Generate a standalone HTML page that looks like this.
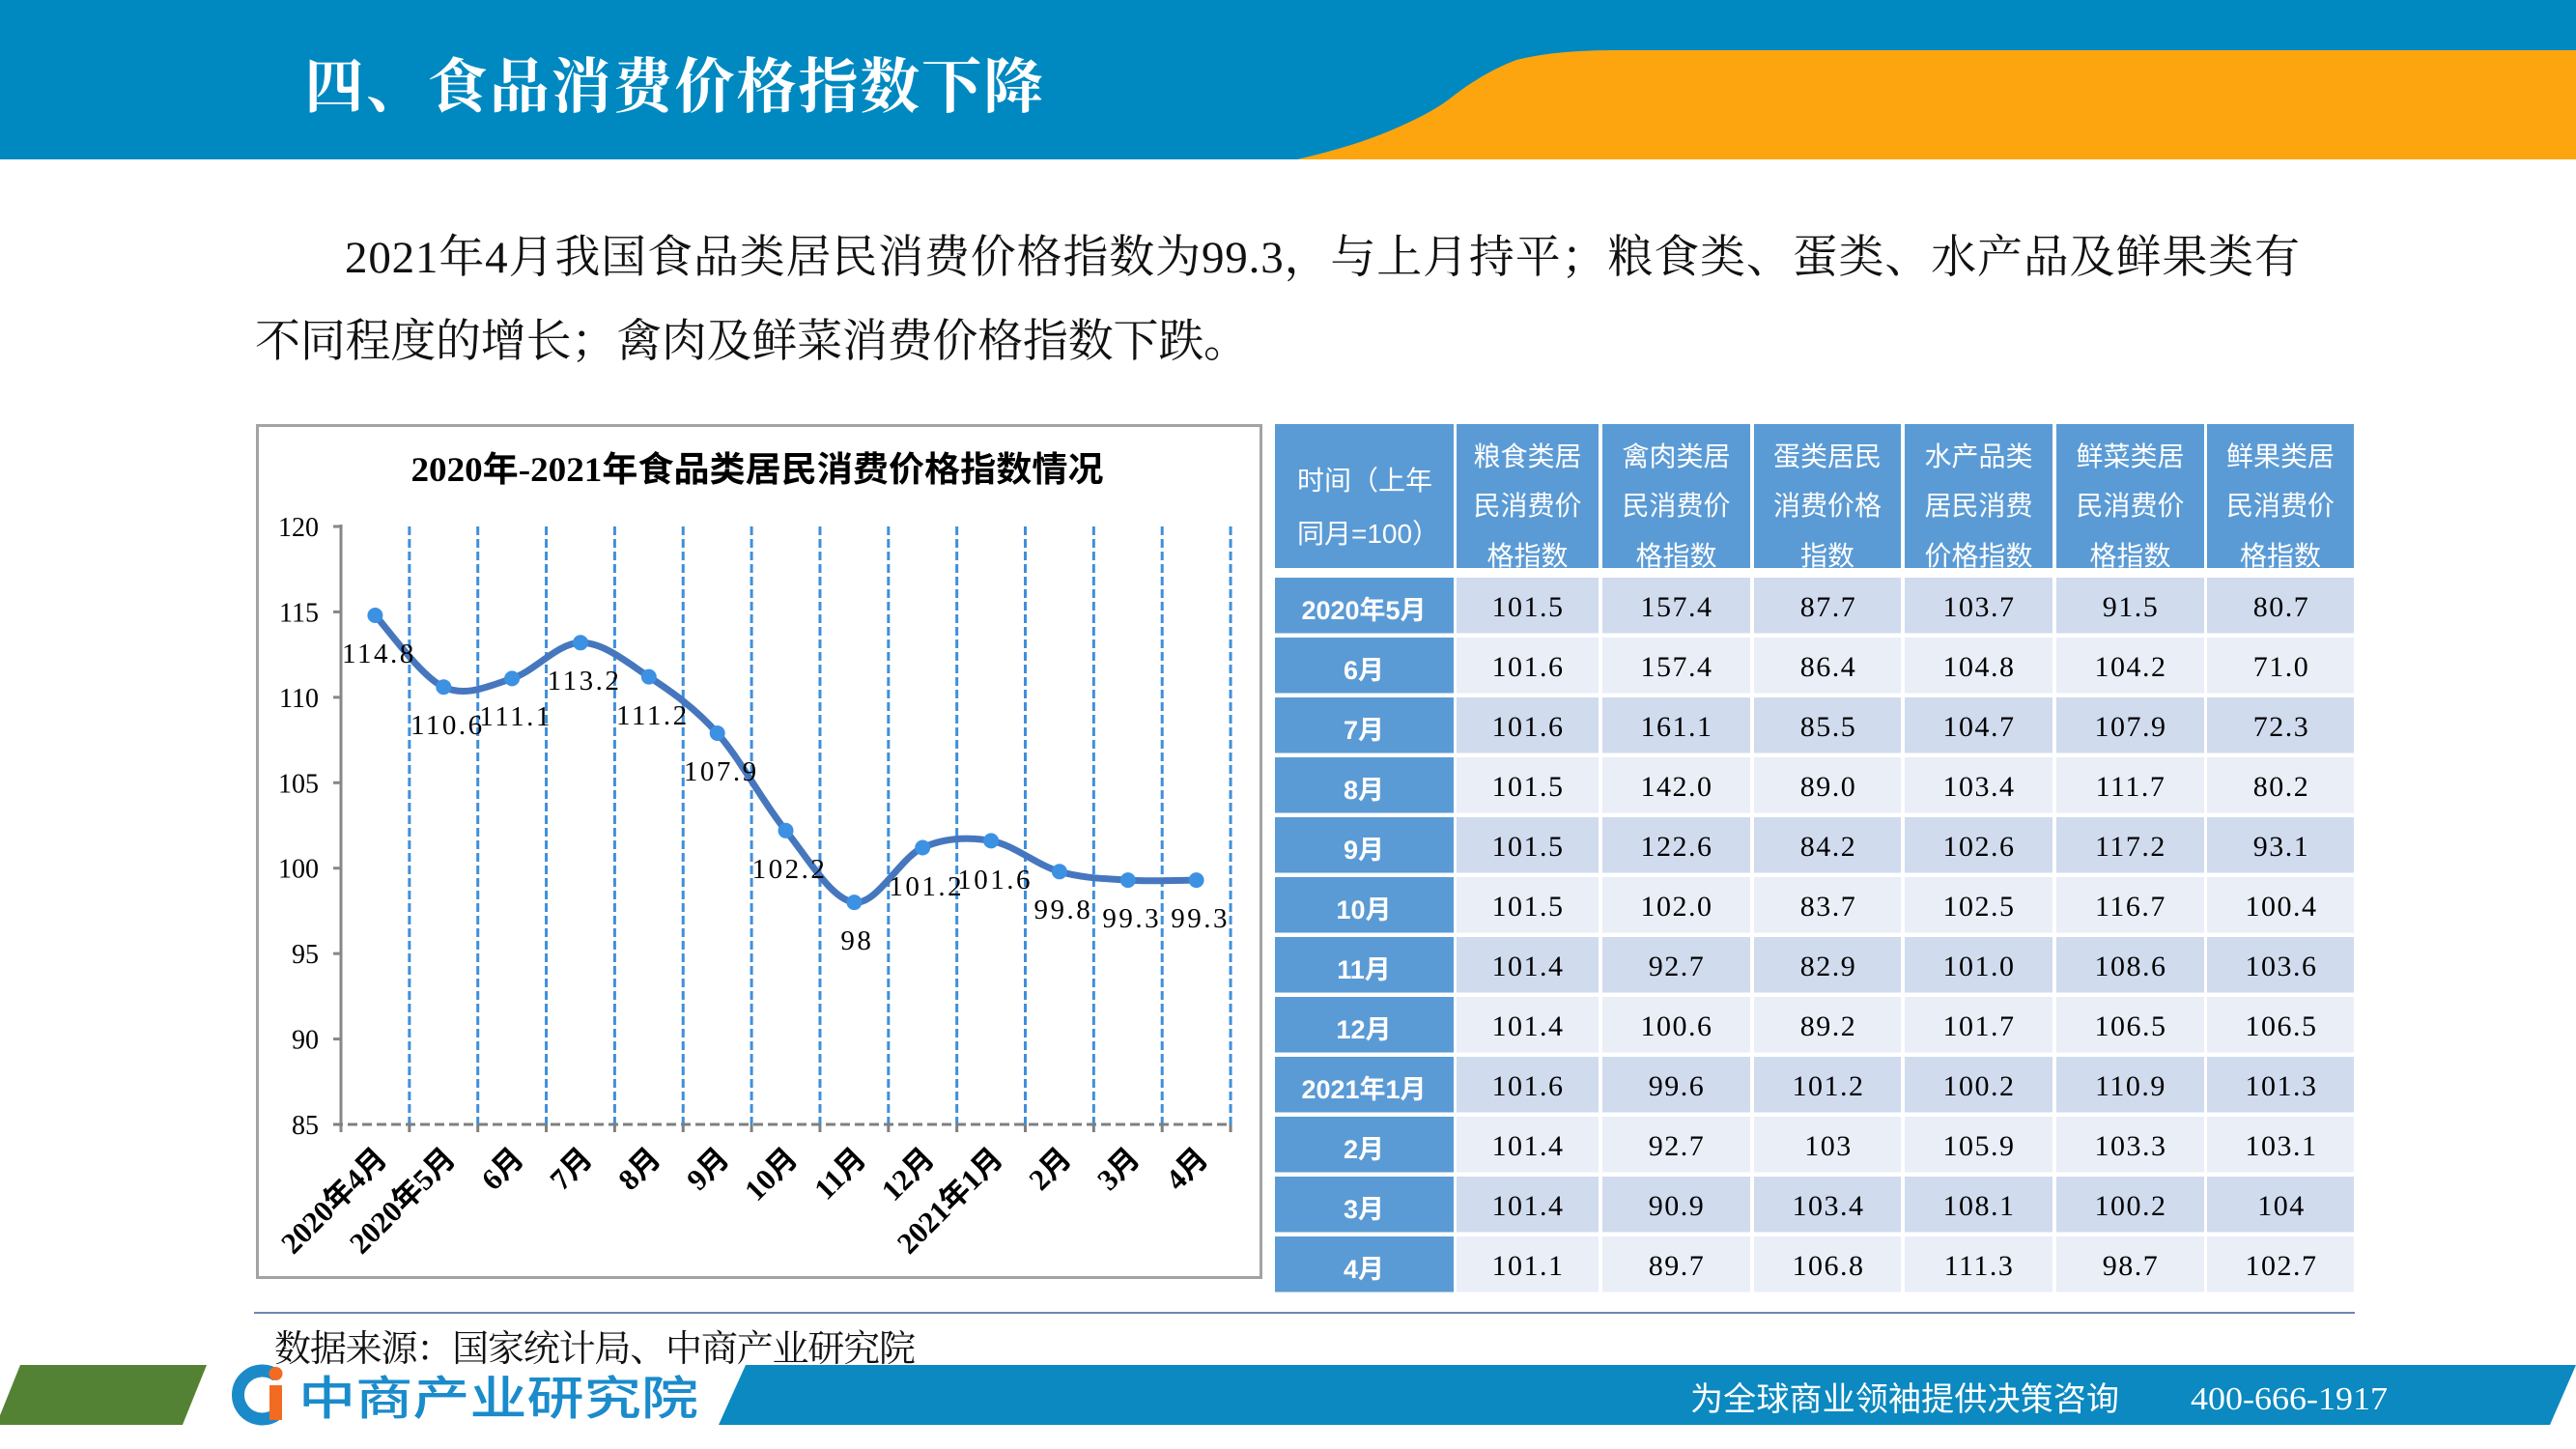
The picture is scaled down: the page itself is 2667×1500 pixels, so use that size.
<!DOCTYPE html>
<html><head><meta charset="utf-8"><title>食品消费价格指数下降</title>
<style>
html,body{margin:0;padding:0;background:#fff;}
svg{display:block;}
.serif{font-family:"Liberation Serif","Noto Serif CJK SC",serif;}
.sans{font-family:"Liberation Sans","Noto Sans CJK SC",sans-serif;}
.mix{font-family:"Liberation Serif","Noto Sans CJK SC",serif;}
</style></head><body>
<svg xmlns="http://www.w3.org/2000/svg" width="2667" height="1500" viewBox="0 0 2667 1500">
<rect width="2667" height="1500" fill="#ffffff"/>

<!-- Header -->
<rect x="0" y="0" width="2667" height="165" fill="#0089C1"/>
<path d="M1343,165 Q1400,152 1440,135 Q1480,118 1500,103 Q1535,75 1570,62 Q1610,52 1670,52 L2667,52 L2667,165 Z" fill="#FDA50F"/>
<text x="315" y="111" class="serif" font-size="62" font-weight="700" fill="#ffffff" textLength="765" lengthAdjust="spacing">四、食品消费价格指数下降</text>

<!-- Body text -->
<text x="357" y="282" class="serif" font-size="47" fill="#111" textLength="2024" lengthAdjust="spacing">2021年4月我国食品类居民消费价格指数为99.3，与上月持平；粮食类、蛋类、水产品及鲜果类有</text>
<text x="264" y="369" class="serif" font-size="47" fill="#111" textLength="1029" lengthAdjust="spacing">不同程度的增长；禽肉及鲜菜消费价格指数下跌。</text>

<!-- Chart box -->
<rect x="266.5" y="440.5" width="1039" height="882" fill="#ffffff" stroke="#a3a3a3" stroke-width="3"/>
<text x="784" y="498" text-anchor="middle" class="mix" font-size="36" font-weight="bold" fill="#000" textLength="717" lengthAdjust="spacingAndGlyphs">2020年-2021年食品类居民消费价格指数情况</text>

<!-- vertical dashed gridlines -->
<g stroke="#3F8FDC" stroke-width="3" stroke-dasharray="9,4">
<line x1="423.85" y1="545" x2="423.85" y2="1164"/>
<line x1="494.7" y1="545" x2="494.7" y2="1164"/>
<line x1="565.55" y1="545" x2="565.55" y2="1164"/>
<line x1="636.4" y1="545" x2="636.4" y2="1164"/>
<line x1="707.25" y1="545" x2="707.25" y2="1164"/>
<line x1="778.1" y1="545" x2="778.1" y2="1164"/>
<line x1="848.95" y1="545" x2="848.95" y2="1164"/>
<line x1="919.8" y1="545" x2="919.8" y2="1164"/>
<line x1="990.65" y1="545" x2="990.65" y2="1164"/>
<line x1="1061.5" y1="545" x2="1061.5" y2="1164"/>
<line x1="1132.35" y1="545" x2="1132.35" y2="1164"/>
<line x1="1203.2" y1="545" x2="1203.2" y2="1164"/>
<line x1="1274.05" y1="545" x2="1274.05" y2="1164"/>
</g>

<!-- Y axis -->
<g stroke="#878787" stroke-width="3">
<line x1="353" y1="543" x2="353" y2="1172"/>
<line x1="345" y1="545" x2="353" y2="545"/>
<line x1="345" y1="633.43" x2="353" y2="633.43"/>
<line x1="345" y1="721.86" x2="353" y2="721.86"/>
<line x1="345" y1="810.29" x2="353" y2="810.29"/>
<line x1="345" y1="898.71" x2="353" y2="898.71"/>
<line x1="345" y1="987.14" x2="353" y2="987.14"/>
<line x1="345" y1="1075.57" x2="353" y2="1075.57"/>
</g>
<g class="serif" font-size="28" fill="#000" text-anchor="end">
<text x="330" y="555">120</text>
<text x="330" y="643.4">115</text>
<text x="330" y="731.9">110</text>
<text x="330" y="820.3">105</text>
<text x="330" y="908.7">100</text>
<text x="330" y="997.1">95</text>
<text x="330" y="1085.6">90</text>
<text x="330" y="1174">85</text>
</g>

<!-- X axis -->
<line x1="345" y1="1164" x2="1274" y2="1164" stroke="#7f7f7f" stroke-width="3" stroke-dasharray="10,5"/>
<g stroke="#7f7f7f" stroke-width="3">
<line x1="423.85" y1="1164" x2="423.85" y2="1172"/>
<line x1="494.7" y1="1164" x2="494.7" y2="1172"/>
<line x1="565.55" y1="1164" x2="565.55" y2="1172"/>
<line x1="636.4" y1="1164" x2="636.4" y2="1172"/>
<line x1="707.25" y1="1164" x2="707.25" y2="1172"/>
<line x1="778.1" y1="1164" x2="778.1" y2="1172"/>
<line x1="848.95" y1="1164" x2="848.95" y2="1172"/>
<line x1="919.8" y1="1164" x2="919.8" y2="1172"/>
<line x1="990.65" y1="1164" x2="990.65" y2="1172"/>
<line x1="1061.5" y1="1164" x2="1061.5" y2="1172"/>
<line x1="1132.35" y1="1164" x2="1132.35" y2="1172"/>
<line x1="1203.2" y1="1164" x2="1203.2" y2="1172"/>
<line x1="1274.05" y1="1164" x2="1274.05" y2="1172"/>
</g>
<g class="mix" font-size="31" font-weight="bold" fill="#000" text-anchor="end">
<text x="402.4" y="1201" transform="rotate(-45 402.4 1201)">2020年4月</text>
<text x="473.3" y="1201" transform="rotate(-45 473.3 1201)">2020年5月</text>
<text x="544.1" y="1201" transform="rotate(-45 544.1 1201)">6月</text>
<text x="615.0" y="1201" transform="rotate(-45 615.0 1201)">7月</text>
<text x="685.8" y="1201" transform="rotate(-45 685.8 1201)">8月</text>
<text x="756.7" y="1201" transform="rotate(-45 756.7 1201)">9月</text>
<text x="827.5" y="1201" transform="rotate(-45 827.5 1201)">10月</text>
<text x="898.4" y="1201" transform="rotate(-45 898.4 1201)">11月</text>
<text x="969.2" y="1201" transform="rotate(-45 969.2 1201)">12月</text>
<text x="1040.1" y="1201" transform="rotate(-45 1040.1 1201)">2021年1月</text>
<text x="1110.9" y="1201" transform="rotate(-45 1110.9 1201)">2月</text>
<text x="1181.8" y="1201" transform="rotate(-45 1181.8 1201)">3月</text>
<text x="1252.6" y="1201" transform="rotate(-45 1252.6 1201)">4月</text>
</g>

<!-- Series line -->
<path d="M388.4,637.0 C400.2,649.4 435.7,700.3 459.3,711.2 C482.9,722.1 506.5,710.0 530.1,702.4 C553.7,694.8 577.4,665.6 601.0,665.3 C624.6,665.0 648.2,685.0 671.8,700.6 C695.4,716.2 719.1,732.5 742.7,759.0 C766.3,785.5 789.9,830.6 813.5,859.8 C837.1,889.0 860.8,931.2 884.4,934.1 C908.0,937.1 931.6,888.1 955.2,877.5 C978.8,866.9 1002.5,866.3 1026.1,870.4 C1049.7,874.5 1073.3,895.5 1096.9,902.3 C1120.5,909.1 1144.2,909.6 1167.8,911.1 C1191.4,912.6 1226.8,911.1 1238.6,911.1" fill="none" stroke="#4677BE" stroke-width="7" stroke-linecap="round" stroke-linejoin="round"/>
<g fill="#3C91E3">
<circle cx="388.4" cy="637.0" r="8"/>
<circle cx="459.3" cy="711.2" r="8"/>
<circle cx="530.1" cy="702.4" r="8"/>
<circle cx="601.0" cy="665.3" r="8"/>
<circle cx="671.8" cy="700.6" r="8"/>
<circle cx="742.7" cy="759.0" r="8"/>
<circle cx="813.5" cy="859.8" r="8"/>
<circle cx="884.4" cy="934.1" r="8"/>
<circle cx="955.2" cy="877.5" r="8"/>
<circle cx="1026.1" cy="870.4" r="8"/>
<circle cx="1096.9" cy="902.3" r="8"/>
<circle cx="1167.8" cy="911.1" r="8"/>
<circle cx="1238.6" cy="911.1" r="8"/>
</g>
<g class="serif" font-size="29" fill="#000" text-anchor="middle" letter-spacing="2.5">
<text x="392.4" y="686">114.8</text>
<text x="463.3" y="760">110.6</text>
<text x="534.1" y="751">111.1</text>
<text x="605.0" y="714">113.2</text>
<text x="675.8" y="750">111.2</text>
<text x="746.7" y="808">107.9</text>
<text x="817.5" y="909">102.2</text>
<text x="887.4" y="983">98</text>
<text x="959.2" y="927">101.2</text>
<text x="1030.1" y="920">101.6</text>
<text x="1100.9" y="951">99.8</text>
<text x="1171.8" y="960">99.3</text>
<text x="1242.6" y="960">99.3</text>
</g>

<!-- Table -->
<defs><clipPath id="hclip"><rect x="1320" y="439" width="1118" height="149"/></clipPath></defs>
<g fill="#5B9BD5">
<rect x="1320" y="439" width="185" height="149"/>
<rect x="1508" y="439" width="147" height="149"/>
<rect x="1659" y="439" width="153" height="149"/>
<rect x="1816" y="439" width="152" height="149"/>
<rect x="1972" y="439" width="153" height="149"/>
<rect x="2129" y="439" width="153" height="149"/>
<rect x="2285" y="439" width="152" height="149"/>
</g>
<g clip-path="url(#hclip)" class="sans" font-size="28" fill="#ffffff">
<text x="1343" y="507">时间（上年</text>
<text x="1343" y="562">同月=100）</text>
<g text-anchor="middle">
<text x="1581.5" y="482">粮食类居</text><text x="1581.5" y="533">民消费价</text><text x="1581.5" y="585">格指数</text>
<text x="1735.5" y="482">禽肉类居</text><text x="1735.5" y="533">民消费价</text><text x="1735.5" y="585">格指数</text>
<text x="1892" y="482">蛋类居民</text><text x="1892" y="533">消费价格</text><text x="1892" y="585">指数</text>
<text x="2048.5" y="482">水产品类</text><text x="2048.5" y="533">居民消费</text><text x="2048.5" y="585">价格指数</text>
<text x="2205.5" y="482">鲜菜类居</text><text x="2205.5" y="533">民消费价</text><text x="2205.5" y="585">格指数</text>
<text x="2361" y="482">鲜果类居</text><text x="2361" y="533">民消费价</text><text x="2361" y="585">格指数</text>
</g>
</g>

<!-- rows: top = 598 + 62k, h = 57.5 -->
<g fill="#5B9BD5">
<rect x="1320" y="598" width="185" height="57.5"/>
<rect x="1320" y="660" width="185" height="57.5"/>
<rect x="1320" y="722" width="185" height="57.5"/>
<rect x="1320" y="784" width="185" height="57.5"/>
<rect x="1320" y="846" width="185" height="57.5"/>
<rect x="1320" y="908" width="185" height="57.5"/>
<rect x="1320" y="970" width="185" height="57.5"/>
<rect x="1320" y="1032" width="185" height="57.5"/>
<rect x="1320" y="1094" width="185" height="57.5"/>
<rect x="1320" y="1156" width="185" height="57.5"/>
<rect x="1320" y="1218" width="185" height="57.5"/>
<rect x="1320" y="1280" width="185" height="57.5"/>
</g>
<g>
<g fill="#D0DBEE">
<rect x="1508" y="598" width="147" height="57.5"/><rect x="1659" y="598" width="153" height="57.5"/><rect x="1816" y="598" width="152" height="57.5"/><rect x="1972" y="598" width="153" height="57.5"/><rect x="2129" y="598" width="153" height="57.5"/><rect x="2285" y="598" width="152" height="57.5"/>
<rect x="1508" y="722" width="147" height="57.5"/><rect x="1659" y="722" width="153" height="57.5"/><rect x="1816" y="722" width="152" height="57.5"/><rect x="1972" y="722" width="153" height="57.5"/><rect x="2129" y="722" width="153" height="57.5"/><rect x="2285" y="722" width="152" height="57.5"/>
<rect x="1508" y="846" width="147" height="57.5"/><rect x="1659" y="846" width="153" height="57.5"/><rect x="1816" y="846" width="152" height="57.5"/><rect x="1972" y="846" width="153" height="57.5"/><rect x="2129" y="846" width="153" height="57.5"/><rect x="2285" y="846" width="152" height="57.5"/>
<rect x="1508" y="970" width="147" height="57.5"/><rect x="1659" y="970" width="153" height="57.5"/><rect x="1816" y="970" width="152" height="57.5"/><rect x="1972" y="970" width="153" height="57.5"/><rect x="2129" y="970" width="153" height="57.5"/><rect x="2285" y="970" width="152" height="57.5"/>
<rect x="1508" y="1094" width="147" height="57.5"/><rect x="1659" y="1094" width="153" height="57.5"/><rect x="1816" y="1094" width="152" height="57.5"/><rect x="1972" y="1094" width="153" height="57.5"/><rect x="2129" y="1094" width="153" height="57.5"/><rect x="2285" y="1094" width="152" height="57.5"/>
<rect x="1508" y="1218" width="147" height="57.5"/><rect x="1659" y="1218" width="153" height="57.5"/><rect x="1816" y="1218" width="152" height="57.5"/><rect x="1972" y="1218" width="153" height="57.5"/><rect x="2129" y="1218" width="153" height="57.5"/><rect x="2285" y="1218" width="152" height="57.5"/>
</g>
<g fill="#E9EEF7">
<rect x="1508" y="660" width="147" height="57.5"/><rect x="1659" y="660" width="153" height="57.5"/><rect x="1816" y="660" width="152" height="57.5"/><rect x="1972" y="660" width="153" height="57.5"/><rect x="2129" y="660" width="153" height="57.5"/><rect x="2285" y="660" width="152" height="57.5"/>
<rect x="1508" y="784" width="147" height="57.5"/><rect x="1659" y="784" width="153" height="57.5"/><rect x="1816" y="784" width="152" height="57.5"/><rect x="1972" y="784" width="153" height="57.5"/><rect x="2129" y="784" width="153" height="57.5"/><rect x="2285" y="784" width="152" height="57.5"/>
<rect x="1508" y="908" width="147" height="57.5"/><rect x="1659" y="908" width="153" height="57.5"/><rect x="1816" y="908" width="152" height="57.5"/><rect x="1972" y="908" width="153" height="57.5"/><rect x="2129" y="908" width="153" height="57.5"/><rect x="2285" y="908" width="152" height="57.5"/>
<rect x="1508" y="1032" width="147" height="57.5"/><rect x="1659" y="1032" width="153" height="57.5"/><rect x="1816" y="1032" width="152" height="57.5"/><rect x="1972" y="1032" width="153" height="57.5"/><rect x="2129" y="1032" width="153" height="57.5"/><rect x="2285" y="1032" width="152" height="57.5"/>
<rect x="1508" y="1156" width="147" height="57.5"/><rect x="1659" y="1156" width="153" height="57.5"/><rect x="1816" y="1156" width="152" height="57.5"/><rect x="1972" y="1156" width="153" height="57.5"/><rect x="2129" y="1156" width="153" height="57.5"/><rect x="2285" y="1156" width="152" height="57.5"/>
<rect x="1508" y="1280" width="147" height="57.5"/><rect x="1659" y="1280" width="153" height="57.5"/><rect x="1816" y="1280" width="152" height="57.5"/><rect x="1972" y="1280" width="153" height="57.5"/><rect x="2129" y="1280" width="153" height="57.5"/><rect x="2285" y="1280" width="152" height="57.5"/>
</g>
</g>

<!-- row labels -->
<g class="sans" font-size="27" font-weight="bold" fill="#ffffff" text-anchor="middle">
<text x="1412" y="641">2020年5月</text>
<text x="1412" y="703">6月</text>
<text x="1412" y="765">7月</text>
<text x="1412" y="827">8月</text>
<text x="1412" y="889">9月</text>
<text x="1412" y="951">10月</text>
<text x="1412" y="1013">11月</text>
<text x="1412" y="1075">12月</text>
<text x="1412" y="1137">2021年1月</text>
<text x="1412" y="1199">2月</text>
<text x="1412" y="1261">3月</text>
<text x="1412" y="1323">4月</text>
</g>

<!-- data -->
<g class="serif" font-size="30" fill="#000" text-anchor="middle" letter-spacing="1.5">
<text x="1582" y="638">101.5</text><text x="1736" y="638">157.4</text><text x="1893" y="638">87.7</text><text x="2049" y="638">103.7</text><text x="2206" y="638">91.5</text><text x="2362" y="638">80.7</text>
<text x="1582" y="700">101.6</text><text x="1736" y="700">157.4</text><text x="1893" y="700">86.4</text><text x="2049" y="700">104.8</text><text x="2206" y="700">104.2</text><text x="2362" y="700">71.0</text>
<text x="1582" y="762">101.6</text><text x="1736" y="762">161.1</text><text x="1893" y="762">85.5</text><text x="2049" y="762">104.7</text><text x="2206" y="762">107.9</text><text x="2362" y="762">72.3</text>
<text x="1582" y="824">101.5</text><text x="1736" y="824">142.0</text><text x="1893" y="824">89.0</text><text x="2049" y="824">103.4</text><text x="2206" y="824">111.7</text><text x="2362" y="824">80.2</text>
<text x="1582" y="886">101.5</text><text x="1736" y="886">122.6</text><text x="1893" y="886">84.2</text><text x="2049" y="886">102.6</text><text x="2206" y="886">117.2</text><text x="2362" y="886">93.1</text>
<text x="1582" y="948">101.5</text><text x="1736" y="948">102.0</text><text x="1893" y="948">83.7</text><text x="2049" y="948">102.5</text><text x="2206" y="948">116.7</text><text x="2362" y="948">100.4</text>
<text x="1582" y="1010">101.4</text><text x="1736" y="1010">92.7</text><text x="1893" y="1010">82.9</text><text x="2049" y="1010">101.0</text><text x="2206" y="1010">108.6</text><text x="2362" y="1010">103.6</text>
<text x="1582" y="1072">101.4</text><text x="1736" y="1072">100.6</text><text x="1893" y="1072">89.2</text><text x="2049" y="1072">101.7</text><text x="2206" y="1072">106.5</text><text x="2362" y="1072">106.5</text>
<text x="1582" y="1134">101.6</text><text x="1736" y="1134">99.6</text><text x="1893" y="1134">101.2</text><text x="2049" y="1134">100.2</text><text x="2206" y="1134">110.9</text><text x="2362" y="1134">101.3</text>
<text x="1582" y="1196">101.4</text><text x="1736" y="1196">92.7</text><text x="1893" y="1196">103</text><text x="2049" y="1196">105.9</text><text x="2206" y="1196">103.3</text><text x="2362" y="1196">103.1</text>
<text x="1582" y="1258">101.4</text><text x="1736" y="1258">90.9</text><text x="1893" y="1258">103.4</text><text x="2049" y="1258">108.1</text><text x="2206" y="1258">100.2</text><text x="2362" y="1258">104</text>
<text x="1582" y="1320">101.1</text><text x="1736" y="1320">89.7</text><text x="1893" y="1320">106.8</text><text x="2049" y="1320">111.3</text><text x="2206" y="1320">98.7</text><text x="2362" y="1320">102.7</text>
</g>

<!-- Source line + text -->
<line x1="263" y1="1359" x2="2438" y2="1359" stroke="#6F86B0" stroke-width="2"/>
<text x="284" y="1409" class="serif" font-size="38" fill="#111" textLength="664" lengthAdjust="spacing">数据来源：国家统计局、中商产业研究院</text>

<!-- Footer -->
<polygon points="21,1413 214,1413 189,1475 -4,1475" fill="#548235"/>
<polygon points="772,1413 2667,1413 2640,1475 744,1475" fill="#0B89C0"/>
<path d="M286.5,1424 A25,25 0 1,0 286.5,1464" fill="none" stroke="#1B8AC9" stroke-width="13"/>
<rect x="279" y="1434" width="13" height="36" fill="#F26B22"/>
<circle cx="285.5" cy="1422" r="7" fill="#F26B22"/>
<text x="309" y="1464" class="sans" font-size="48" font-weight="500" fill="#1A8BCB" textLength="414" lengthAdjust="spacingAndGlyphs">中商产业研究院</text>
<text x="1750" y="1460" class="sans" font-size="34" fill="#ffffff" textLength="444" lengthAdjust="spacing">为全球商业领袖提供决策咨询</text>
<text x="2268" y="1459" class="serif" font-size="34" fill="#ffffff" textLength="204" lengthAdjust="spacingAndGlyphs">400-666-1917</text>
</svg>
</body></html>
